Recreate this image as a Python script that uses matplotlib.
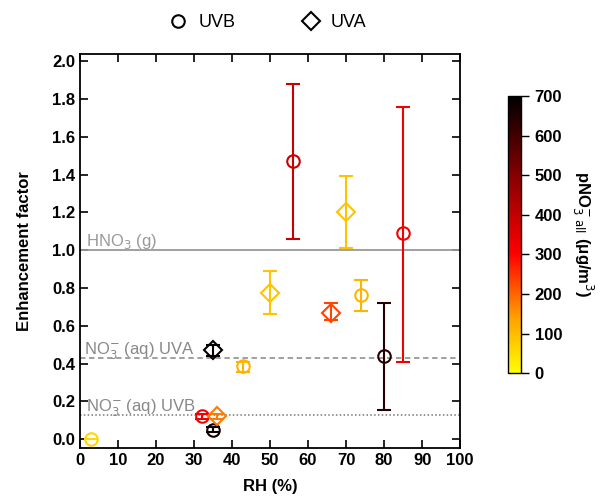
import numpy as np
import matplotlib
matplotlib.use('Agg')
import matplotlib.pyplot as plt
from matplotlib.colors import LinearSegmentedColormap, Normalize
from matplotlib.lines import Line2D

plt.rcParams['font.family'] = ['Liberation Sans', 'DejaVu Sans']

# UVB (circles)
uvb_rh = [3, 32, 35, 43, 56, 74, 80, 85]
uvb_ef = [0.0, 0.12, 0.05, 0.385, 1.47, 0.765, 0.44, 1.09]
uvb_lo = [0.0, 0.105, 0.035, 0.355, 1.06, 0.68, 0.155, 0.41]
uvb_hi = [0.0, 0.135, 0.065, 0.41, 1.88, 0.845, 0.72, 1.76]
uvb_pno3 = [60, 320, 680, 110, 390, 110, 640, 320]

# UVA (diamonds)
uva_rh = [35, 36, 50, 66, 70]
uva_ef = [0.47, 0.12, 0.775, 0.67, 1.20]
uva_lo = [0.44, 0.105, 0.66, 0.63, 1.01]
uva_hi = [0.50, 0.135, 0.89, 0.72, 1.395]
uva_pno3 = [690, 180, 90, 230, 90]

ref_hno3 = 1.0
ref_uva = 0.43
ref_uvb = 0.13

cmap = LinearSegmentedColormap.from_list(
    'ylred', [(0.0, '#ffff00'), (0.2, '#ffa000'), (0.43, '#ff0000'),
              (0.7, '#8b0000'), (1.0, '#000000')])
norm = Normalize(0, 700)

fig = plt.figure(figsize=(6, 5.03), dpi=100)
ax = fig.add_axes([0.133, 0.109, 0.634, 0.784])

ax.axhline(ref_hno3, color='#999999', lw=1.3)
ax.axhline(ref_uva, color='#999999', lw=1.3, ls=(0, (3, 2)))
ax.axhline(ref_uvb, color='#777777', lw=1.1, ls=(0, (1, 1.5)))
ax.text(1.5, ref_hno3 + 0.02, 'HNO$_3$ (g)', color='#999999', fontsize=12)
ax.text(1.0, ref_uva + 0.02, 'NO$_3^{-}$ (aq) UVA', color='#888888', fontsize=12)
ax.text(1.5, ref_uvb + 0.02, 'NO$_3^{-}$ (aq) UVB', color='#888888', fontsize=12)

def draw(rh, ef, lo, hi, c, marker, ms):
    for x, y, l, h, v in zip(rh, ef, lo, hi, c):
        col = cmap(norm(v))
        ax.errorbar(x, y, yerr=[[y - l], [h - y]], fmt=marker, ms=ms,
                    mfc='none', mec=col, mew=1.5, ecolor=col, elinewidth=1.5,
                    capsize=5, capthick=1.5, zorder=3)

draw(uvb_rh, uvb_ef, uvb_lo, uvb_hi, uvb_pno3, 'o', 9)
draw(uva_rh, uva_ef, uva_lo, uva_hi, uva_pno3, 'D', 9)

ax.set_xlim(0, 100)
ax.set_ylim(-0.048, 2.04)
ax.set_xticks(np.arange(0, 101, 10))
ax.set_yticks(np.arange(0, 2.01, 0.2))
ax.set_yticklabels([f'{v:.1f}' for v in np.arange(0, 2.01, 0.2)])
ax.tick_params(direction='in', top=True, right=True, length=6, width=1.2,
               labelsize=12)
for lbl in ax.get_xticklabels() + ax.get_yticklabels():
    lbl.set_fontweight('bold')
for s in ax.spines.values():
    s.set_linewidth(1.3)
ax.set_xlabel('RH (%)', fontsize=12, fontweight='bold', labelpad=8)
ax.set_ylabel('Enhancement factor', fontsize=12, fontweight='bold', labelpad=14)

handles = [Line2D([], [], ls='none', marker='o', mfc='none', mec='black', mew=1.5, ms=9),
           Line2D([], [], ls='none', marker='D', mfc='none', mec='black', mew=1.5, ms=9)]
fig.legend(handles, ['UVB', 'UVA'], loc='center', bbox_to_anchor=(0.445, 0.955),
           ncol=2, frameon=False, fontsize=13, columnspacing=3.6,
           handletextpad=0.5, handlelength=1.2)

cax = fig.add_axes([0.847, 0.258, 0.022, 0.551])
sm = matplotlib.cm.ScalarMappable(norm=norm, cmap=cmap)
cb = fig.colorbar(sm, cax=cax, ticks=np.arange(0, 701, 100))
cb.outline.set_linewidth(1.0)
cax.tick_params(labelsize=12, length=6, width=1)
for lbl in cax.get_yticklabels():
    lbl.set_fontweight('bold')
cb.set_label('pNO$_3^{-}$$_{\\,\\mathrm{all}}$ (μg/m$^3$)', rotation=270,
             labelpad=24, fontsize=12, fontweight='bold')

fig.savefig('out.png', dpi=100)
